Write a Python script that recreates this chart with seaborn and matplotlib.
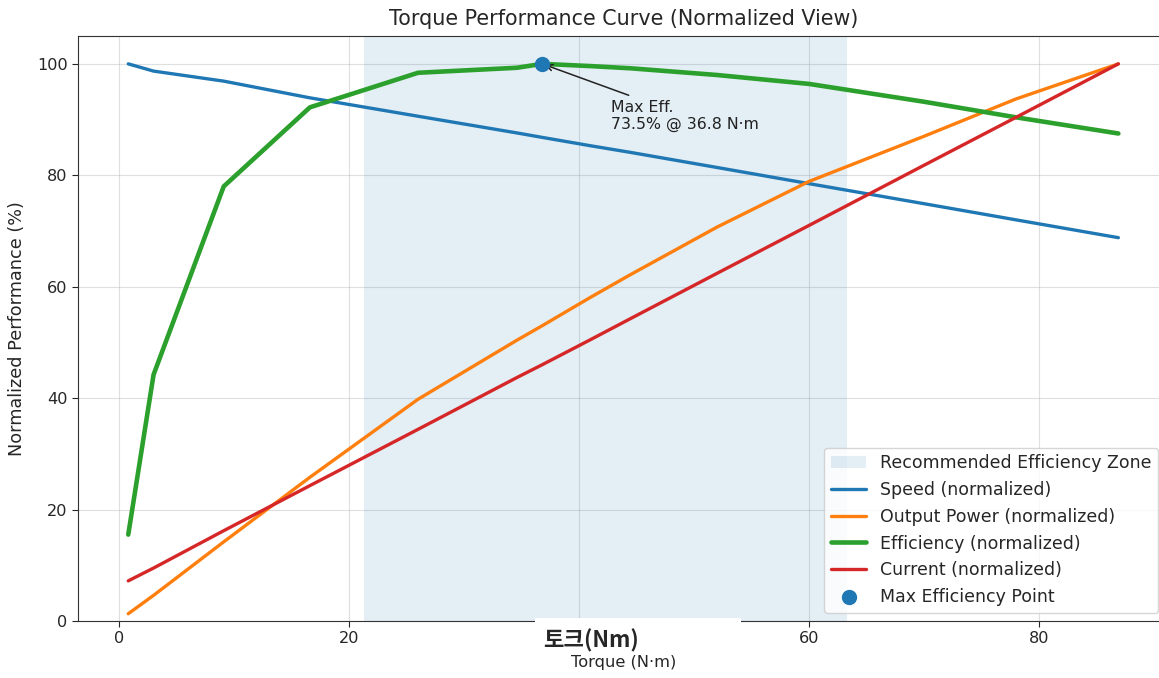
import numpy as np
import pandas as pd
import matplotlib
matplotlib.use('Agg')
import matplotlib.pyplot as plt
import seaborn as sns
from matplotlib.patches import Rectangle

sns.set_style('ticks')
plt.rcParams['font.family'] = ['DejaVu Sans']

# 데이터 (정규화 값, %)
torque = [0.8, 3.0, 9.1, 16.6, 26.0, 34.6, 36.8, 41.0, 44.5, 52.0, 60.0, 70.0, 78.0, 86.9]
speed = [100.0, 98.7, 96.9, 93.9, 90.6, 87.6, 86.8, 85.3, 84.1, 81.4, 78.5, 74.9, 72.0, 68.8]
power = [1.3, 4.6, 14.2, 25.8, 39.8, 50.4, 53.0, 58.1, 62.2, 70.7, 78.9, 87.0, 93.7, 100.0]
efficiency = [15.5, 44.2, 78.0, 92.2, 98.4, 99.3, 100.0, 99.6, 99.2, 98.0, 96.4, 93.2, 90.4, 87.5]
current = [7.2, 9.5, 16.2, 24.3, 34.4, 43.7, 46.0, 50.5, 54.3, 62.4, 71.0, 81.8, 90.4, 100.0]

zone = (21.3, 63.3)
max_eff_torque = 36.8
max_eff_value = 73.5

df = pd.DataFrame({'torque': torque, 'speed': speed, 'power': power,
                   'efficiency': efficiency, 'current': current})

fig = plt.figure(figsize=(11.59, 6.78), dpi=100)
ax = fig.add_axes([0.0673, 0.0841, 0.9413, 0.8628])

ax.axvspan(zone[0], zone[1], color='C0', alpha=0.12, lw=0, label='Recommended Efficiency Zone')
sns.lineplot(data=df, x='torque', y='speed', ax=ax, color='C0', lw=2.4, label='Speed (normalized)')
sns.lineplot(data=df, x='torque', y='power', ax=ax, color='C1', lw=2.4, label='Output Power (normalized)')
sns.lineplot(data=df, x='torque', y='efficiency', ax=ax, color='C2', lw=3.3, label='Efficiency (normalized)')
sns.lineplot(data=df, x='torque', y='current', ax=ax, color='C3', lw=2.4, label='Current (normalized)')
ax.scatter([max_eff_torque], [100], s=100, color='C0', zorder=5, label='Max Efficiency Point')

ax.annotate(f'Max Eff.\n{max_eff_value}% @ {max_eff_torque} N·m',
            xy=(max_eff_torque, 100), xytext=(42.8, 93.6),
            ha='left', va='top', fontsize=11.3, color='#222222',
            arrowprops=dict(arrowstyle='->', color='#222222', lw=1.1))

ax.set_xlim(-3.57, 91.3)
ax.set_ylim(0, 105)
ax.set_xticks([0, 20, 40, 60, 80])
ax.set_xticklabels(['0', '20', '', '60', '80'])  # 40은 한글 라벨 박스에 가려짐
ax.set_yticks([0, 20, 40, 60, 80, 100])
ax.tick_params(labelsize=11.6, length=4)
ax.grid(True, color='#b0b0b0', alpha=0.4)
ax.set_title('Torque Performance Curve (Normalized View)', fontsize=14.9, pad=8)
ax.set_xlabel('Torque (N·m)', fontsize=11.7, labelpad=6)
ax.set_ylabel('Normalized Performance (%)', fontsize=12.7, labelpad=8)
for s in ax.spines.values():
    s.set_color('#333333')

ax.legend(loc='lower right', fontsize=12.5, framealpha=0.8,
          bbox_to_anchor=(0.995, 0.005), borderaxespad=0.3)

# 한글 라벨 박스
fig.patches.append(Rectangle((535 / 1159, 1 - 655 / 678), 206 / 1159, 37 / 678,
                             transform=fig.transFigure, facecolor='white',
                             edgecolor='none', zorder=10))
fig.text(591 / 1159, 1 - 641 / 678, '토크(Nm)', ha='center', va='center',
         fontsize=16, fontweight='bold', zorder=11,
         family=['Noto Sans CJK KR', 'DejaVu Sans'])

fig.savefig('out.png', dpi=100)
